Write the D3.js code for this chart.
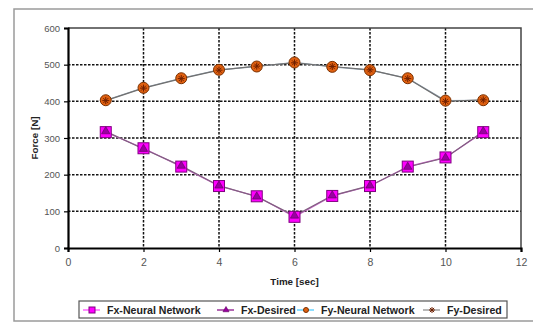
<!DOCTYPE html>
<html><head><meta charset="utf-8">
<script src="https://cdn.jsdelivr.net/npm/d3@7"></script>
<style>body{margin:0;background:#fff}svg{display:block;font-family:"Liberation Sans",Arial,sans-serif}</style>
</head><body>
<svg id="c" width="533" height="323"></svg>
<script>
const time = [1,2,3,4,5,6,7,8,9,10,11];
const fxNeural = [316,272,222,169,141,85,142,169,222,247,316];
const fxDesired = [318,270,224,170,140,88,143,170,221,246,318];
const fyNeural = [403,437,463,486,495,506,494,485,463,402,403];
const fyDesired = [402,436,462,485,496,505,495,486,462,400,404];
const xTicks = [0,2,4,6,8,10,12];
const yTicks = [0,100,200,300,400,500,600];
const seriesNames = ["Fx-Neural Network","Fx-Desired","Fy-Neural Network","Fy-Desired"];

const svg = d3.select("#c");
const L=68,R=521,T=28,B=248;
const x = d3.scaleLinear().domain([0,12]).range([L,R]);
const y = d3.scaleLinear().domain([0,600]).range([B,T]);

// outer frame
svg.append("rect").attr("x",14).attr("y",9).attr("width",540).attr("height",312)
  .attr("fill","none").attr("stroke","#9a9a9a").attr("stroke-width",1.5);

// grid
const g = svg.append("g");
g.selectAll(".gx").data(xTicks.filter(d=>d>0&&d<12)).enter().append("line")
  .attr("x1",d=>x(d)).attr("x2",d=>x(d)).attr("y1",T).attr("y2",B)
  .attr("stroke","#111").attr("stroke-width",1.5).attr("stroke-dasharray","2.5,1.5");
g.selectAll(".gy").data(yTicks.filter(d=>d>0&&d<600)).enter().append("line")
  .attr("x1",L).attr("x2",R).attr("y1",d=>y(d)).attr("y2",d=>y(d))
  .attr("stroke","#111").attr("stroke-width",1.5).attr("stroke-dasharray","2.5,1.5");

// plot border top/right
svg.append("path").attr("d",`M${L},${T}H${R}V${B}`).attr("fill","none").attr("stroke","#444").attr("stroke-width",1.5);

// axes
const xa = svg.append("g").attr("transform",`translate(0,${B})`)
  .call(d3.axisBottom(x).tickValues(xTicks).tickSize(4).tickPadding(7));
const ya = svg.append("g").attr("transform",`translate(${L},0)`)
  .call(d3.axisLeft(y).tickValues(yTicks).tickSize(4).tickPadding(4));
[xa,ya].forEach(a=>{
  a.select(".domain").attr("stroke","#000").attr("stroke-width",2.2);
  a.selectAll(".tick line").attr("stroke","#000").attr("stroke-width",1.2);
  a.selectAll("text").attr("fill","#555").attr("font-size","9.5px").attr("font-family","Liberation Sans, Arial, sans-serif");
});
xa.selectAll("text").attr("font-size","10.5px");

// titles
svg.append("text").attr("x",(L+R)/2).attr("y",285).attr("text-anchor","middle")
  .attr("font-size","9.8px").attr("font-weight","bold").attr("fill","#222").text("Time [sec]");
svg.append("text").attr("transform",`translate(38,${(T+B)/2}) rotate(-90)`).attr("text-anchor","middle")
  .attr("font-size","9.8px").attr("font-weight","bold").attr("fill","#222").text("Force [N]");

// lines
const line = vals => d3.line().x((d,i)=>x(time[i])).y(d=>y(d))(vals);
svg.append("path").attr("d",line(fxNeural)).attr("fill","none").attr("stroke","#c060c0").attr("stroke-width",1.2);
svg.append("path").attr("d",line(fxDesired)).attr("fill","none").attr("stroke","#806080").attr("stroke-width",1.2);
svg.append("path").attr("d",line(fyNeural)).attr("fill","none").attr("stroke","#90a0b0").attr("stroke-width",1.2);
svg.append("path").attr("d",line(fyDesired)).attr("fill","none").attr("stroke","#707070").attr("stroke-width",1.2);

// markers
function square(sel,s){sel.append("rect").attr("x",-s/2).attr("y",-s/2).attr("width",s).attr("height",s)
  .attr("fill","#ff00ff").attr("stroke","#800080").attr("stroke-width",1);}
function tri(sel,s){sel.append("path").attr("d",d3.symbol(d3.symbolTriangle,s).size(s)())
  .attr("fill","#9a00a0").attr("stroke","#600060").attr("stroke-width",0.6);}
function circ(sel,r){sel.append("circle").attr("r",r).attr("fill","#e06010").attr("stroke","#7a3000").attr("stroke-width",1);}
function star(sel,s){sel.append("path").attr("d",`M${-s},0H${s}M0,${-s}V${s}M${-s*0.7},${-s*0.7}L${s*0.7},${s*0.7}M${-s*0.7},${s*0.7}L${s*0.7},${-s*0.7}`)
  .attr("stroke","#702000").attr("stroke-width",1).attr("fill","none");}

fxNeural.forEach((v,i)=>square(svg.append("g").attr("transform",`translate(${x(time[i])},${y(v)})`),11));
fxDesired.forEach((v,i)=>tri(svg.append("g").attr("transform",`translate(${x(time[i])},${y(v)})`),30));
fyNeural.forEach((v,i)=>circ(svg.append("g").attr("transform",`translate(${x(time[i])},${y(v)})`),5.5));
fyDesired.forEach((v,i)=>star(svg.append("g").attr("transform",`translate(${x(time[i])},${y(v)})`),3.5));

// legend
svg.append("rect").attr("x",79).attr("y",301).attr("width",428).attr("height",17)
  .attr("fill","#fff").attr("stroke","#555").attr("stroke-width",1.2);
const items = [
  {x:83, col:"#ff40ff", m:s=>square(s,6)},
  {x:217, col:"#800080", m:s=>tri(s,16)},
  {x:297, col:"#40c8ff", m:s=>circ(s,2.5)},
  {x:423, col:"#888", m:s=>star(s,3)}
];
items.forEach((it,i)=>{
  const gi = svg.append("g").attr("transform",`translate(${it.x},310)`);
  gi.append("line").attr("x1",0).attr("x2",17).attr("stroke",it.col).attr("stroke-width",1.2);
  it.m(gi.append("g").attr("transform","translate(9,0)"));
  gi.append("text").attr("x",24).attr("y",3.8).attr("font-size","10.6px").attr("font-weight","bold")
    .attr("fill","#222").text(seriesNames[i]);
});
</script>
</body></html>
